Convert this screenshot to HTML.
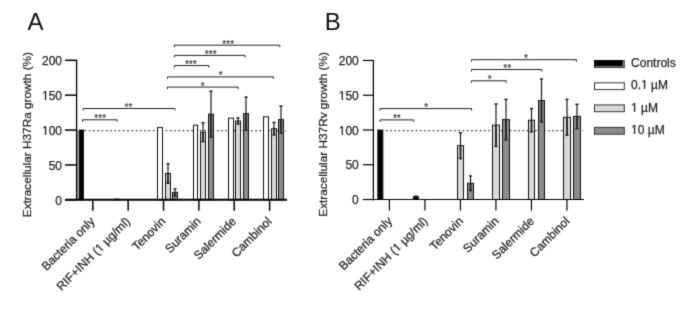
<!DOCTYPE html>
<html><head><meta charset="utf-8"><style>
html,body{margin:0;padding:0;background:#fff;overflow:hidden;width:685px;height:309px;}
svg{display:block;font-family:"Liberation Sans", sans-serif;}
</style></head><body>
<svg width="685" height="309" viewBox="0 0 685 309">
<defs><filter id="bl" x="0" y="0" width="685" height="309" filterUnits="userSpaceOnUse" color-interpolation-filters="sRGB"><feConvolveMatrix order="3" kernelMatrix="0.0169 0.0962 0.0169 0.0962 0.5476 0.0962 0.0169 0.0962 0.0169" divisor="1" edgeMode="duplicate"/></filter></defs>
<rect width="685" height="309" fill="#fff"/>
<g filter="url(#bl)">
<rect width="685" height="309" fill="#fff"/>
<line x1="84.50" y1="130.65" x2="286.00" y2="130.65" stroke="#333" stroke-width="1.2" stroke-dasharray="1.6 2.67"/>
<rect x="77.10" y="130.05" width="1.90" height="69.75" fill="#a0a0a0"/>
<rect x="79.50" y="130.05" width="3.90" height="69.75" fill="#000" stroke="#111" stroke-width="1"/>
<rect x="114.86" y="199.10" width="3.90" height="0.70" fill="#000" stroke="#111" stroke-width="1"/>
<rect x="157.50" y="127.54" width="5.00" height="72.26" fill="#fff" stroke="#111" stroke-width="1"/>
<rect x="165.50" y="173.50" width="5.00" height="26.30" fill="#d9d9d9" stroke="#111" stroke-width="1"/>
<line x1="168.00" y1="163.74" x2="168.00" y2="173.50" stroke="#1a1a1a" stroke-width="1.2" />
<line x1="168.00" y1="173.50" x2="168.00" y2="183.27" stroke="#2a2a2a" stroke-width="2.0" />
<line x1="166.40" y1="163.74" x2="169.60" y2="163.74" stroke="#1a1a1a" stroke-width="1.4" />
<line x1="166.40" y1="183.27" x2="169.60" y2="183.27" stroke="#1a1a1a" stroke-width="1.4" />
<rect x="172.50" y="192.34" width="5.00" height="7.46" fill="#8c8c8c" stroke="#111" stroke-width="1"/>
<line x1="175.00" y1="188.85" x2="175.00" y2="192.34" stroke="#1a1a1a" stroke-width="1.2" />
<line x1="175.00" y1="192.34" x2="175.00" y2="195.82" stroke="#2a2a2a" stroke-width="2.0" />
<line x1="173.40" y1="188.85" x2="176.60" y2="188.85" stroke="#1a1a1a" stroke-width="1.4" />
<line x1="173.40" y1="195.82" x2="176.60" y2="195.82" stroke="#1a1a1a" stroke-width="1.4" />
<rect x="193.50" y="125.17" width="4.00" height="74.63" fill="#fff" stroke="#111" stroke-width="1"/>
<rect x="200.50" y="132.21" width="5.00" height="67.59" fill="#d9d9d9" stroke="#111" stroke-width="1"/>
<line x1="203.00" y1="122.80" x2="203.00" y2="132.21" stroke="#1a1a1a" stroke-width="1.2" />
<line x1="203.00" y1="132.21" x2="203.00" y2="141.63" stroke="#2a2a2a" stroke-width="2.0" />
<line x1="201.40" y1="122.80" x2="204.60" y2="122.80" stroke="#1a1a1a" stroke-width="1.4" />
<line x1="201.40" y1="141.63" x2="204.60" y2="141.63" stroke="#1a1a1a" stroke-width="1.4" />
<rect x="208.50" y="114.22" width="5.00" height="85.58" fill="#8c8c8c" stroke="#111" stroke-width="1"/>
<line x1="211.00" y1="91.20" x2="211.00" y2="114.22" stroke="#1a1a1a" stroke-width="1.2" />
<line x1="211.00" y1="114.22" x2="211.00" y2="137.23" stroke="#2a2a2a" stroke-width="2.0" />
<line x1="209.40" y1="91.20" x2="212.60" y2="91.20" stroke="#1a1a1a" stroke-width="1.4" />
<line x1="209.40" y1="137.23" x2="212.60" y2="137.23" stroke="#1a1a1a" stroke-width="1.4" />
<rect x="228.50" y="118.19" width="5.00" height="81.61" fill="#fff" stroke="#111" stroke-width="1"/>
<rect x="235.50" y="120.98" width="5.00" height="78.82" fill="#d9d9d9" stroke="#111" stroke-width="1"/>
<line x1="238.00" y1="117.84" x2="238.00" y2="120.98" stroke="#1a1a1a" stroke-width="1.2" />
<line x1="238.00" y1="120.98" x2="238.00" y2="124.12" stroke="#2a2a2a" stroke-width="2.0" />
<line x1="236.40" y1="117.84" x2="239.60" y2="117.84" stroke="#1a1a1a" stroke-width="1.4" />
<line x1="236.40" y1="124.12" x2="239.60" y2="124.12" stroke="#1a1a1a" stroke-width="1.4" />
<rect x="243.50" y="113.59" width="5.00" height="86.21" fill="#8c8c8c" stroke="#111" stroke-width="1"/>
<line x1="246.00" y1="97.13" x2="246.00" y2="113.59" stroke="#1a1a1a" stroke-width="1.2" />
<line x1="246.00" y1="113.59" x2="246.00" y2="130.05" stroke="#2a2a2a" stroke-width="2.0" />
<line x1="244.40" y1="97.13" x2="247.60" y2="97.13" stroke="#1a1a1a" stroke-width="1.4" />
<line x1="244.40" y1="130.05" x2="247.60" y2="130.05" stroke="#1a1a1a" stroke-width="1.4" />
<rect x="263.50" y="116.80" width="5.00" height="83.00" fill="#fff" stroke="#111" stroke-width="1"/>
<rect x="271.50" y="128.72" width="5.00" height="71.08" fill="#d9d9d9" stroke="#111" stroke-width="1"/>
<line x1="274.00" y1="122.45" x2="274.00" y2="128.72" stroke="#1a1a1a" stroke-width="1.2" />
<line x1="274.00" y1="128.72" x2="274.00" y2="135.00" stroke="#2a2a2a" stroke-width="2.0" />
<line x1="272.40" y1="122.45" x2="275.60" y2="122.45" stroke="#1a1a1a" stroke-width="1.4" />
<line x1="272.40" y1="135.00" x2="275.60" y2="135.00" stroke="#1a1a1a" stroke-width="1.4" />
<rect x="278.50" y="119.59" width="5.00" height="80.21" fill="#8c8c8c" stroke="#111" stroke-width="1"/>
<line x1="281.00" y1="106.06" x2="281.00" y2="119.59" stroke="#1a1a1a" stroke-width="1.2" />
<line x1="281.00" y1="119.59" x2="281.00" y2="133.12" stroke="#2a2a2a" stroke-width="2.0" />
<line x1="279.40" y1="106.06" x2="282.60" y2="106.06" stroke="#1a1a1a" stroke-width="1.4" />
<line x1="279.40" y1="133.12" x2="282.60" y2="133.12" stroke="#1a1a1a" stroke-width="1.4" />
<line x1="76.60" y1="59.80" x2="76.60" y2="200.80" stroke="#000" stroke-width="1.3" />
<line x1="65.00" y1="199.80" x2="287.00" y2="199.80" stroke="#000" stroke-width="2.0" />
<line x1="65.00" y1="199.80" x2="76.60" y2="199.80" stroke="#000" stroke-width="1.5" />
<text x="62.00" y="204.50" font-size="12" text-anchor="end" fill="#262626" stroke="#262626" stroke-width="0.25" >0</text>
<line x1="65.00" y1="164.93" x2="76.60" y2="164.93" stroke="#000" stroke-width="1.5" />
<text x="62.00" y="169.62" font-size="12" text-anchor="end" fill="#262626" stroke="#262626" stroke-width="0.25" >50</text>
<line x1="65.00" y1="130.05" x2="76.60" y2="130.05" stroke="#000" stroke-width="1.5" />
<text x="62.00" y="134.75" font-size="12" text-anchor="end" fill="#262626" stroke="#262626" stroke-width="0.25" >100</text>
<line x1="65.00" y1="95.18" x2="76.60" y2="95.18" stroke="#000" stroke-width="1.5" />
<text x="62.00" y="99.88" font-size="12" text-anchor="end" fill="#262626" stroke="#262626" stroke-width="0.25" >150</text>
<line x1="65.00" y1="60.30" x2="76.60" y2="60.30" stroke="#000" stroke-width="1.5" />
<text x="62.00" y="65.00" font-size="12" text-anchor="end" fill="#262626" stroke="#262626" stroke-width="0.25" >200</text>
<line x1="92.80" y1="199.80" x2="92.80" y2="210.80" stroke="#000" stroke-width="1.5" />
<line x1="128.16" y1="199.80" x2="128.16" y2="210.80" stroke="#000" stroke-width="1.5" />
<line x1="163.52" y1="199.80" x2="163.52" y2="210.80" stroke="#000" stroke-width="1.5" />
<line x1="198.88" y1="199.80" x2="198.88" y2="210.80" stroke="#000" stroke-width="1.5" />
<line x1="234.24" y1="199.80" x2="234.24" y2="210.80" stroke="#000" stroke-width="1.5" />
<line x1="269.60" y1="199.80" x2="269.60" y2="210.80" stroke="#000" stroke-width="1.5" />
<text x="95.50" y="222.10" font-size="12" text-anchor="end" fill="#262626" stroke="#262626" stroke-width="0.25" transform="rotate(-45 95.50 222.10)">Bacteria only</text>
<text x="130.86" y="222.10" font-size="12" text-anchor="end" fill="#262626" stroke="#262626" stroke-width="0.25" transform="rotate(-45 130.86 222.10)">RIF+INH (1 &#181;g/ml)</text>
<text x="166.22" y="222.10" font-size="12" text-anchor="end" fill="#262626" stroke="#262626" stroke-width="0.25" transform="rotate(-45 166.22 222.10)">Tenovin</text>
<text x="201.58" y="222.10" font-size="12" text-anchor="end" fill="#262626" stroke="#262626" stroke-width="0.25" transform="rotate(-45 201.58 222.10)">Suramin</text>
<text x="236.94" y="222.10" font-size="12" text-anchor="end" fill="#262626" stroke="#262626" stroke-width="0.25" transform="rotate(-45 236.94 222.10)">Salermide</text>
<text x="272.30" y="222.10" font-size="12" text-anchor="end" fill="#262626" stroke="#262626" stroke-width="0.25" transform="rotate(-45 272.30 222.10)">Cambinol</text>
<text x="30.80" y="134.60" font-size="11.8" text-anchor="middle" fill="#262626" stroke="#262626" stroke-width="0.25" transform="rotate(-90 30.80 134.60)">Extracellular H37Ra growth (%)</text>
<text x="27.60" y="30.40" font-size="24" fill="#111">A</text>
<path d="M83.20 110.50V108.50H175.00V110.50" fill="none" stroke="#222" stroke-width="1"/>
<text x="128.40" y="110.90" font-size="10" text-anchor="middle" fill="#4a4a4a" stroke="#4a4a4a" stroke-width="0.25" >**</text>
<path d="M82.50 121.80V119.80H117.00V121.80" fill="none" stroke="#222" stroke-width="1"/>
<text x="100.20" y="122.20" font-size="10" text-anchor="middle" fill="#4a4a4a" stroke="#4a4a4a" stroke-width="0.25" >***</text>
<path d="M174.40 47.20V45.20H279.80V47.20" fill="none" stroke="#222" stroke-width="1"/>
<text x="228.20" y="47.60" font-size="10" text-anchor="middle" fill="#4a4a4a" stroke="#4a4a4a" stroke-width="0.25" >***</text>
<path d="M174.40 57.40V55.40H245.00V57.40" fill="none" stroke="#222" stroke-width="1"/>
<text x="210.70" y="57.80" font-size="10" text-anchor="middle" fill="#4a4a4a" stroke="#4a4a4a" stroke-width="0.25" >***</text>
<path d="M174.40 67.60V65.60H208.90V67.60" fill="none" stroke="#222" stroke-width="1"/>
<text x="190.80" y="68.00" font-size="10" text-anchor="middle" fill="#4a4a4a" stroke="#4a4a4a" stroke-width="0.25" >***</text>
<path d="M167.50 78.90V76.90H273.30V78.90" fill="none" stroke="#222" stroke-width="1"/>
<text x="220.70" y="79.30" font-size="10" text-anchor="middle" fill="#4a4a4a" stroke="#4a4a4a" stroke-width="0.25" >*</text>
<path d="M167.50 89.10V87.10H238.10V89.10" fill="none" stroke="#222" stroke-width="1"/>
<text x="202.60" y="89.50" font-size="10" text-anchor="middle" fill="#4a4a4a" stroke="#4a4a4a" stroke-width="0.25" >*</text>
<line x1="381.50" y1="130.60" x2="583.00" y2="130.60" stroke="#333" stroke-width="1.2" stroke-dasharray="1.6 2.67"/>
<rect x="377.85" y="130.00" width="5.00" height="69.50" fill="#000" stroke="#111" stroke-width="1"/>
<rect x="413.36" y="196.72" width="5.00" height="2.78" fill="#000" stroke="#111" stroke-width="1"/>
<line x1="415.86" y1="196.16" x2="415.86" y2="196.72" stroke="#1a1a1a" stroke-width="1.2" />
<line x1="415.86" y1="196.72" x2="415.86" y2="197.28" stroke="#2a2a2a" stroke-width="2.0" />
<line x1="414.26" y1="196.16" x2="417.46" y2="196.16" stroke="#1a1a1a" stroke-width="1.4" />
<line x1="414.26" y1="197.28" x2="417.46" y2="197.28" stroke="#1a1a1a" stroke-width="1.4" />
<rect x="457.50" y="145.71" width="6.00" height="53.79" fill="#d9d9d9" stroke="#111" stroke-width="1"/>
<line x1="460.50" y1="132.78" x2="460.50" y2="145.71" stroke="#1a1a1a" stroke-width="1.2" />
<line x1="460.50" y1="145.71" x2="460.50" y2="158.63" stroke="#2a2a2a" stroke-width="2.0" />
<line x1="458.90" y1="132.78" x2="462.10" y2="132.78" stroke="#1a1a1a" stroke-width="1.4" />
<line x1="458.90" y1="158.63" x2="462.10" y2="158.63" stroke="#1a1a1a" stroke-width="1.4" />
<rect x="467.50" y="183.24" width="6.00" height="16.26" fill="#8c8c8c" stroke="#111" stroke-width="1"/>
<line x1="470.50" y1="175.94" x2="470.50" y2="183.24" stroke="#1a1a1a" stroke-width="1.2" />
<line x1="470.50" y1="183.24" x2="470.50" y2="190.53" stroke="#2a2a2a" stroke-width="2.0" />
<line x1="468.90" y1="175.94" x2="472.10" y2="175.94" stroke="#1a1a1a" stroke-width="1.4" />
<line x1="468.90" y1="190.53" x2="472.10" y2="190.53" stroke="#1a1a1a" stroke-width="1.4" />
<rect x="492.50" y="125.14" width="7.00" height="74.36" fill="#d9d9d9" stroke="#111" stroke-width="1"/>
<line x1="496.00" y1="103.94" x2="496.00" y2="125.14" stroke="#1a1a1a" stroke-width="1.2" />
<line x1="496.00" y1="125.14" x2="496.00" y2="146.33" stroke="#2a2a2a" stroke-width="2.0" />
<line x1="494.40" y1="103.94" x2="497.60" y2="103.94" stroke="#1a1a1a" stroke-width="1.4" />
<line x1="494.40" y1="146.33" x2="497.60" y2="146.33" stroke="#1a1a1a" stroke-width="1.4" />
<rect x="502.50" y="119.58" width="7.00" height="79.92" fill="#8c8c8c" stroke="#111" stroke-width="1"/>
<line x1="506.00" y1="99.42" x2="506.00" y2="119.58" stroke="#1a1a1a" stroke-width="1.2" />
<line x1="506.00" y1="119.58" x2="506.00" y2="139.73" stroke="#2a2a2a" stroke-width="2.0" />
<line x1="504.40" y1="99.42" x2="507.60" y2="99.42" stroke="#1a1a1a" stroke-width="1.4" />
<line x1="504.40" y1="139.73" x2="507.60" y2="139.73" stroke="#1a1a1a" stroke-width="1.4" />
<rect x="528.50" y="120.27" width="6.00" height="79.23" fill="#d9d9d9" stroke="#111" stroke-width="1"/>
<line x1="531.50" y1="108.66" x2="531.50" y2="120.27" stroke="#1a1a1a" stroke-width="1.2" />
<line x1="531.50" y1="120.27" x2="531.50" y2="131.88" stroke="#2a2a2a" stroke-width="2.0" />
<line x1="529.90" y1="108.66" x2="533.10" y2="108.66" stroke="#1a1a1a" stroke-width="1.4" />
<line x1="529.90" y1="131.88" x2="533.10" y2="131.88" stroke="#1a1a1a" stroke-width="1.4" />
<rect x="538.50" y="100.53" width="6.00" height="98.97" fill="#8c8c8c" stroke="#111" stroke-width="1"/>
<line x1="541.50" y1="78.99" x2="541.50" y2="100.53" stroke="#1a1a1a" stroke-width="1.2" />
<line x1="541.50" y1="100.53" x2="541.50" y2="122.08" stroke="#2a2a2a" stroke-width="2.0" />
<line x1="539.90" y1="78.99" x2="543.10" y2="78.99" stroke="#1a1a1a" stroke-width="1.4" />
<line x1="539.90" y1="122.08" x2="543.10" y2="122.08" stroke="#1a1a1a" stroke-width="1.4" />
<rect x="563.50" y="117.28" width="7.00" height="82.22" fill="#d9d9d9" stroke="#111" stroke-width="1"/>
<line x1="567.00" y1="99.35" x2="567.00" y2="117.28" stroke="#1a1a1a" stroke-width="1.2" />
<line x1="567.00" y1="117.28" x2="567.00" y2="135.21" stroke="#2a2a2a" stroke-width="2.0" />
<line x1="565.40" y1="99.35" x2="568.60" y2="99.35" stroke="#1a1a1a" stroke-width="1.4" />
<line x1="565.40" y1="135.21" x2="568.60" y2="135.21" stroke="#1a1a1a" stroke-width="1.4" />
<rect x="573.50" y="116.38" width="7.00" height="83.12" fill="#8c8c8c" stroke="#111" stroke-width="1"/>
<line x1="577.00" y1="104.29" x2="577.00" y2="116.38" stroke="#1a1a1a" stroke-width="1.2" />
<line x1="577.00" y1="116.38" x2="577.00" y2="128.47" stroke="#2a2a2a" stroke-width="2.0" />
<line x1="575.40" y1="104.29" x2="578.60" y2="104.29" stroke="#1a1a1a" stroke-width="1.4" />
<line x1="575.40" y1="128.47" x2="578.60" y2="128.47" stroke="#1a1a1a" stroke-width="1.4" />
<line x1="373.40" y1="60.00" x2="373.40" y2="200.60" stroke="#000" stroke-width="1.2" />
<line x1="362.90" y1="199.50" x2="584.00" y2="199.50" stroke="#000" stroke-width="1.2" />
<line x1="362.90" y1="199.50" x2="373.40" y2="199.50" stroke="#000" stroke-width="1.2" />
<text x="358.75" y="204.20" font-size="12" text-anchor="end" fill="#262626" stroke="#262626" stroke-width="0.25" >0</text>
<line x1="362.90" y1="164.75" x2="373.40" y2="164.75" stroke="#000" stroke-width="1.2" />
<text x="358.75" y="169.45" font-size="12" text-anchor="end" fill="#262626" stroke="#262626" stroke-width="0.25" >50</text>
<line x1="362.90" y1="130.00" x2="373.40" y2="130.00" stroke="#000" stroke-width="1.2" />
<text x="358.75" y="134.70" font-size="12" text-anchor="end" fill="#262626" stroke="#262626" stroke-width="0.25" >100</text>
<line x1="362.90" y1="95.25" x2="373.40" y2="95.25" stroke="#000" stroke-width="1.2" />
<text x="358.75" y="99.95" font-size="12" text-anchor="end" fill="#262626" stroke="#262626" stroke-width="0.25" >150</text>
<line x1="362.90" y1="60.50" x2="373.40" y2="60.50" stroke="#000" stroke-width="1.2" />
<text x="358.75" y="65.20" font-size="12" text-anchor="end" fill="#262626" stroke="#262626" stroke-width="0.25" >200</text>
<line x1="389.40" y1="199.50" x2="389.40" y2="210.50" stroke="#000" stroke-width="1.2" />
<line x1="424.91" y1="199.50" x2="424.91" y2="210.50" stroke="#000" stroke-width="1.2" />
<line x1="460.42" y1="199.50" x2="460.42" y2="210.50" stroke="#000" stroke-width="1.2" />
<line x1="495.93" y1="199.50" x2="495.93" y2="210.50" stroke="#000" stroke-width="1.2" />
<line x1="531.44" y1="199.50" x2="531.44" y2="210.50" stroke="#000" stroke-width="1.2" />
<line x1="566.95" y1="199.50" x2="566.95" y2="210.50" stroke="#000" stroke-width="1.2" />
<text x="392.90" y="221.80" font-size="12" text-anchor="end" fill="#262626" stroke="#262626" stroke-width="0.25" transform="rotate(-45 392.90 221.80)">Bacteria only</text>
<text x="428.41" y="221.80" font-size="12" text-anchor="end" fill="#262626" stroke="#262626" stroke-width="0.25" transform="rotate(-45 428.41 221.80)">RIF+INH (1 &#181;g/ml)</text>
<text x="463.92" y="221.80" font-size="12" text-anchor="end" fill="#262626" stroke="#262626" stroke-width="0.25" transform="rotate(-45 463.92 221.80)">Tenovin</text>
<text x="499.43" y="221.80" font-size="12" text-anchor="end" fill="#262626" stroke="#262626" stroke-width="0.25" transform="rotate(-45 499.43 221.80)">Suramin</text>
<text x="534.94" y="221.80" font-size="12" text-anchor="end" fill="#262626" stroke="#262626" stroke-width="0.25" transform="rotate(-45 534.94 221.80)">Salermide</text>
<text x="570.45" y="221.80" font-size="12" text-anchor="end" fill="#262626" stroke="#262626" stroke-width="0.25" transform="rotate(-45 570.45 221.80)">Cambinol</text>
<text x="327.30" y="134.40" font-size="11.8" text-anchor="middle" fill="#262626" stroke="#262626" stroke-width="0.25" transform="rotate(-90 327.30 134.40)">Extracellular H37Rv growth (%)</text>
<text x="324.70" y="29.80" font-size="24" fill="#111">B</text>
<path d="M380.00 110.60V108.60H471.60V110.60" fill="none" stroke="#222" stroke-width="1"/>
<text x="426.30" y="111.00" font-size="10" text-anchor="middle" fill="#4a4a4a" stroke="#4a4a4a" stroke-width="0.25" >*</text>
<path d="M380.00 121.90V119.90H413.70V121.90" fill="none" stroke="#222" stroke-width="1"/>
<text x="396.80" y="122.30" font-size="10" text-anchor="middle" fill="#4a4a4a" stroke="#4a4a4a" stroke-width="0.25" >**</text>
<path d="M471.50 61.70V59.70H576.40V61.70" fill="none" stroke="#222" stroke-width="1"/>
<text x="525.90" y="62.10" font-size="10" text-anchor="middle" fill="#4a4a4a" stroke="#4a4a4a" stroke-width="0.25" >*</text>
<path d="M471.50 71.50V69.50H541.80V71.50" fill="none" stroke="#222" stroke-width="1"/>
<text x="507.20" y="71.90" font-size="10" text-anchor="middle" fill="#4a4a4a" stroke="#4a4a4a" stroke-width="0.25" >**</text>
<path d="M471.50 82.80V80.80H506.20V82.80" fill="none" stroke="#222" stroke-width="1"/>
<text x="489.60" y="83.20" font-size="10" text-anchor="middle" fill="#4a4a4a" stroke="#4a4a4a" stroke-width="0.25" >*</text>
<rect x="594.50" y="60.70" width="29.80" height="6.80" fill="#9a9a9a" stroke="#333" stroke-width="1"/>
<rect x="594.1" y="60.10" width="28.6" height="6.1" fill="#000"/>
<text x="631.10" y="67.30" font-size="12" text-anchor="start" fill="#262626" stroke="#262626" stroke-width="0.25" >Controls</text>
<rect x="594.50" y="82.80" width="29.80" height="6.80" fill="#fff" stroke="#333" stroke-width="1"/>
<text x="631.10" y="89.40" font-size="12" text-anchor="start" fill="#262626" stroke="#262626" stroke-width="0.25" >0.1 &#181;M</text>
<rect x="594.50" y="104.90" width="29.80" height="6.80" fill="#d9d9d9" stroke="#333" stroke-width="1"/>
<text x="631.10" y="111.50" font-size="12" text-anchor="start" fill="#262626" stroke="#262626" stroke-width="0.25" >1 &#181;M</text>
<rect x="594.50" y="127.40" width="29.80" height="6.80" fill="#8c8c8c" stroke="#333" stroke-width="1"/>
<text x="631.10" y="134.00" font-size="12" text-anchor="start" fill="#262626" stroke="#262626" stroke-width="0.25" >10 &#181;M</text>
<rect x="42" y="134" width="7" height="2" fill="#fff"/>
<rect x="44.80" y="134" width="1.5" height="1" fill="#3c3c3c"/>
<rect x="42" y="99" width="7" height="2" fill="#fff"/>
<rect x="44.80" y="99" width="1.5" height="1" fill="#3c3c3c"/>
<rect x="87.82" y="220.95" width="5.87" height="1.45" fill="#fff" transform="rotate(-45 130.86 222.10)"/>
<rect x="90.16" y="220.90" width="1.30" height="1.20" fill="#262626" transform="rotate(-45 130.86 222.10)"/>
<rect x="339" y="134" width="7" height="2" fill="#fff"/>
<rect x="341.80" y="134" width="1.5" height="1" fill="#3c3c3c"/>
<rect x="339" y="99" width="7" height="2" fill="#fff"/>
<rect x="341.80" y="99" width="1.5" height="1" fill="#3c3c3c"/>
<rect x="385.37" y="220.65" width="5.87" height="1.45" fill="#fff" transform="rotate(-45 428.41 221.80)"/>
<rect x="387.71" y="220.60" width="1.30" height="1.20" fill="#262626" transform="rotate(-45 428.41 221.80)"/>
<rect x="641" y="88" width="7" height="2" fill="#fff"/>
<rect x="643.80" y="88" width="1.5" height="1" fill="#3c3c3c"/>
<rect x="631" y="111" width="7" height="2" fill="#fff"/>
<rect x="633.80" y="111" width="1.5" height="1" fill="#3c3c3c"/>
<rect x="631" y="133" width="7" height="2" fill="#fff"/>
<rect x="633.80" y="133" width="1.5" height="1" fill="#3c3c3c"/>
</g>
</svg>
</body></html>
